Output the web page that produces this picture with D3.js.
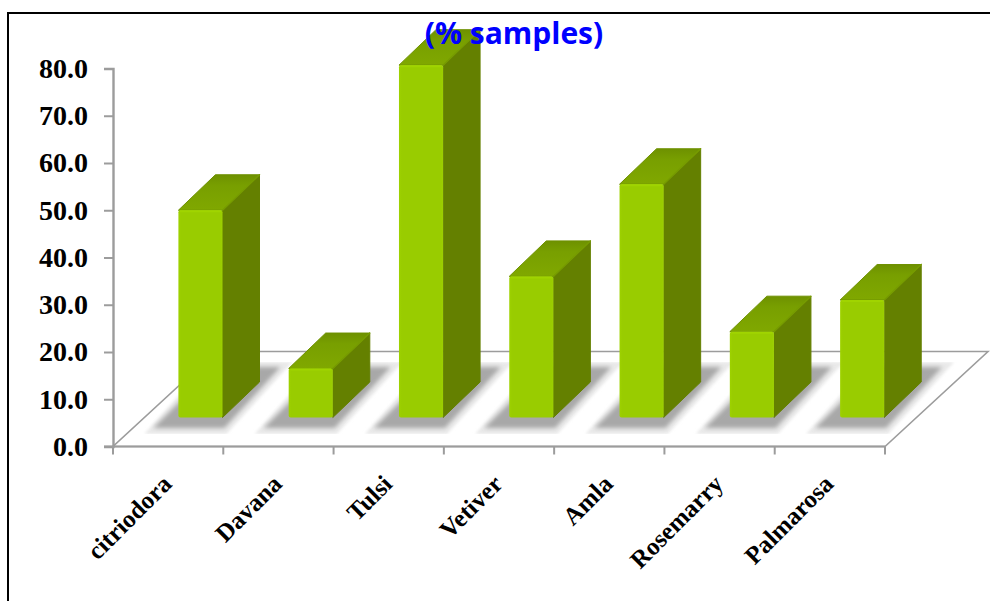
<!DOCTYPE html>
<html>
<head>
<meta charset="utf-8">
<script src="https://cdn.jsdelivr.net/npm/d3@7/dist/d3.min.js"></script>
<style>
html,body{margin:0;padding:0;background:#fff;overflow:hidden}
svg{display:block}
</style>
</head>
<body>
<svg id="chart" width="990" height="601"></svg>
<script>
// Essential-oil crops and the share of samples for each one.
const categories = ["citriodora", "Davana", "Tulsi", "Vetiver", "Amla", "Rosemarry", "Palmarosa"];
const samples = [50, 16.5, 80.7, 36, 55.5, 24.3, 31];
const yTicks = [0, 10, 20, 30, 40, 50, 60, 70, 80];
const titleText = "(% samples)";

const svg = d3.select("#chart");
const defs = svg.append("defs");

const axisColor = "#9c9c9c";
const x = d3.scaleBand().domain(categories).range([113, 885]);
const y = d3.scaleLinear().domain([0, 80]).range([446.5, 68.5]);

// Oblique projection of the chart box: floor depth and bar depth.
const floorDepth = { dx: 103, dy: -95 };
const barDepth = { dx: 37, dy: -35.5 };
const floorBaseY = 417.5;
const barOffset = b => b * 0.593;
const barWidth = b => b * 0.4;

// Gradients and blur for the bevelled bars and soft floor shadows.
const front = defs.append("linearGradient").attr("id", "frontFill");
front.append("stop").attr("offset", "0").attr("stop-color", "#9ed200");
front.append("stop").attr("offset", "0.06").attr("stop-color", "#99cc00");
front.append("stop").attr("offset", "0.95").attr("stop-color", "#99cc00");
front.append("stop").attr("offset", "1").attr("stop-color", "#9dd000");

const top3d = defs.append("linearGradient").attr("id", "topFill")
  .attr("x1", "0").attr("y1", "1").attr("x2", "0").attr("y2", "0");
top3d.append("stop").attr("offset", "0").attr("stop-color", "#80a800");
top3d.append("stop").attr("offset", "0.7").attr("stop-color", "#789f00");
top3d.append("stop").attr("offset", "1").attr("stop-color", "#6e9100");

defs.append("filter").attr("id", "softLight")
  .attr("x", "-20%").attr("y", "-20%").attr("width", "140%").attr("height", "140%")
  .append("feGaussianBlur").attr("stdDeviation", 1.5);
defs.append("filter").attr("id", "softDark")
  .attr("x", "-20%").attr("y", "-20%").attr("width", "140%").attr("height", "140%")
  .append("feGaussianBlur").attr("stdDeviation", 2.2);
defs.append("clipPath").attr("id", "shadowBand")
  .append("rect").attr("x", 100).attr("y", 362).attr("width", 890).attr("height", 72);

const pts = arr => arr.map(p => p.join(",")).join(" ");

// Outer frame, open on the right and at the bottom.
svg.append("path")
  .attr("d", "M8,601V13H990")
  .attr("fill", "none").attr("stroke", "#000").attr("stroke-width", 2);

// Floor of the chart box.
const [x0, x1] = x.range();
const y0 = y(0);
svg.append("polygon")
  .attr("points", pts([
    [x0, y0], [x1, y0],
    [x1 + floorDepth.dx, y0 + floorDepth.dy],
    [x0 + floorDepth.dx, y0 + floorDepth.dy]
  ]))
  .attr("fill", "#fff").attr("stroke", axisColor).attr("stroke-width", 1.6);

// Shadows cast on the floor.
const shadows = svg.append("g").attr("clip-path", "url(#shadowBand)");
shadows.selectAll("polygon.light").data(categories).join("polygon")
  .attr("class", "light")
  .attr("points", c => {
    const l = x(c) + barOffset(x.bandwidth());
    return pts([[l - 34, 434], [l + 48, 434], [l + 114, 362], [l + 30, 362]]);
  })
  .attr("fill", "#e9e9e9").attr("filter", "url(#softLight)");
shadows.selectAll("polygon.dark").data(categories).join("polygon")
  .attr("class", "dark")
  .attr("points", c => {
    const l = x(c) + barOffset(x.bandwidth());
    return pts([[l - 25, 428], [l + 46, 428], [l + 102, 367], [l + 36, 367]]);
  })
  .attr("fill", "#a8a8a8").attr("filter", "url(#softDark)");

// Value axis.
const yAxis = svg.append("g")
  .attr("transform", `translate(${x0},0)`)
  .call(d3.axisLeft(y).tickValues(yTicks).tickFormat(d3.format(".1f")).tickSize(9).tickPadding(16));
yAxis.select(".domain").attr("stroke", axisColor).attr("stroke-width", 2.4);
yAxis.selectAll(".tick line").attr("stroke", axisColor).attr("stroke-width", 2);
yAxis.selectAll(".tick text")
  .attr("fill", "#000")
  .style("font", "bold 28px 'Liberation Serif', serif");

// Category axis: ticks sit on the band edges.
const edges = categories.map(c => x(c)).concat(x1);
svg.append("line")
  .attr("x1", x0 - 9).attr("x2", x1).attr("y1", y0).attr("y2", y0)
  .attr("stroke", axisColor).attr("stroke-width", 2);
svg.selectAll("line.xtick").data(edges).join("line")
  .attr("class", "xtick")
  .attr("x1", d => d).attr("x2", d => d)
  .attr("y1", y0).attr("y2", y0 + 8)
  .attr("stroke", axisColor).attr("stroke-width", 2);

svg.selectAll("text.cat").data(categories).join("text")
  .attr("class", "cat")
  .attr("transform", c => `translate(${x(c) + x.bandwidth() / 2 + 5},${y0 + 39}) rotate(-45)`)
  .attr("text-anchor", "end")
  .attr("fill", "#000")
  .style("font", "bold 25px 'Liberation Serif', serif")
  .text(c => c);

// Bars: side face, top face, then front face.
const bars = svg.selectAll("g.bar")
  .data(categories.map((c, i) => ({ c, v: samples[i] })))
  .join("g").attr("class", "bar");

bars.each(function (d) {
  const g = d3.select(this);
  const b = x.bandwidth();
  const l = x(d.c) + barOffset(b);
  const r = l + barWidth(b);
  const t = y(d.v);
  const { dx, dy } = barDepth;

  g.append("polygon")
    .attr("points", pts([[r, t], [r + dx, t + dy], [r + dx, floorBaseY + dy], [r, floorBaseY]]))
    .attr("fill", "#648000")
    .attr("stroke", "#648000").attr("stroke-width", 1).attr("stroke-linejoin", "round");

  g.append("polygon")
    .attr("points", pts([[l, t], [r, t], [r + dx, t + dy], [l + dx, t + dy]]))
    .attr("fill", "url(#topFill)")
    .attr("stroke", "#6e9100").attr("stroke-width", 1).attr("stroke-linejoin", "round");

  // Thin highlight along the ridge between the top and side faces.
  g.append("line")
    .attr("x1", r).attr("y1", t).attr("x2", r + dx).attr("y2", t + dy)
    .attr("stroke", "#779c00").attr("stroke-width", 1.4).attr("stroke-linecap", "round");

  g.append("rect")
    .attr("x", l).attr("y", t)
    .attr("width", r - l).attr("height", floorBaseY - t)
    .attr("rx", 2).attr("ry", 2)
    .attr("fill", "url(#frontFill)");
  g.append("line")
    .attr("x1", l + 1.5).attr("y1", t + 1).attr("x2", r - 1.5).attr("y2", t + 1)
    .attr("stroke", "#a0d400").attr("stroke-width", 2);
});

// Chart title, drawn over the tallest bar.
svg.append("text")
  .attr("x", 514).attr("y", 44)
  .attr("text-anchor", "middle")
  .attr("fill", "#0000ff")
  .style("font", "bold 30px 'Open Sans', sans-serif")
  .text(titleText);
</script>
</body>
</html>
